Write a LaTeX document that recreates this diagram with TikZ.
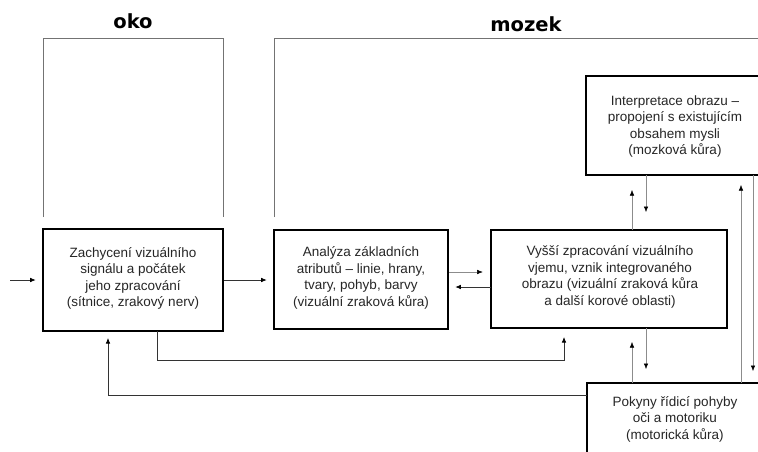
\documentclass[tikz,border=0pt]{standalone}
\usepackage{fontspec}
\setmainfont{Liberation Sans}
\newfontfamily\titlefont{DejaVu Sans}
\usetikzlibrary{arrows.meta,calc}
\begin{document}
\begin{tikzpicture}[x=1pt,y=-1pt,
  box/.style={draw=black, line width=2.6pt, rectangle, inner sep=0pt},
  txt/.style={align=center, font=\fontsize{13.5}{16.5}\selectfont, text=black!85, inner sep=0pt},
  ttl/.style={font=\titlefont\bfseries\fontsize{19.5}{22}\selectfont, inner sep=0pt, anchor=base},
  frame/.style={draw=black!55, line width=0.9pt},
  arr/.style={-{Latex[length=5.5pt,width=4.5pt,color=black]}, line width=0.7pt, draw=black!80},
  larr/.style={-{Latex[length=5.5pt,width=4.5pt,color=black]}, line width=0.5pt, draw=black!45},
]
\clip (0,0) rectangle (758,452);
\fill[white] (0,0) rectangle (758,452);

% titles
\node[ttl] (toko) at (133,29) {oko};
\node[ttl] (tmozek) at (526,32) {mozek};

% brackets
\coordinate (ok1) at (43,217);
\coordinate (ok2) at (43,38);
\coordinate (ok3) at (223,38);
\coordinate (ok4) at (223,217);
\draw[frame] (ok1) -- (ok2) -- (ok3) -- (ok4);
\coordinate (mz1) at (274,217);
\coordinate (mz2) at (274,38);
\coordinate (mz3) at (760,38);
\draw[frame] (mz1) -- (mz2) -- (mz3);

% boxes
\node[box, minimum width=180, minimum height=102] (b1) at (133,280) {};
\node[txt] (b1t) at (133,278.5) {Zachycení vizuálního\\signálu a počátek\\jeho zpracování\\(sítnice, zrakový nerv)};

\node[box, minimum width=174, minimum height=99] (b2) at (361,279.5) {};
\node[txt] (b2t) at (361,278) {Analýza základních\\atributů – linie, hrany,\\tvary, pohyb, barvy\\(vizuální zraková kůra)};

\node[box, minimum width=236, minimum height=98] (b3) at (609,279) {};
\node[txt] (b3t) at (610,277) {Vyšší zpracování vizuálního\\vjemu, vznik integrovaného\\obrazu (vizuální zraková kůra\\a další korové oblasti)};

\node[box, minimum width=178, minimum height=99] (b4) at (675,125.5) {};
\node[txt] (b4t) at (675,126.5) {Interpretace obrazu –\\propojení s existujícím\\obsahem mysli\\(mozková kůra)};

\node[box, minimum width=176, minimum height=74] (b5) at (675,420) {};
\node[txt] (b5t) at (675,419) {Pokyny řídicí pohyby\\oči a motoriku\\(motorická kůra)};

% horizontal arrows
\coordinate (in) at (10,280);
\draw[arr, shorten >=6pt] (in) -- (b1.west |- in);
\draw[arr, shorten >=6pt] (b1.east |- in) -- (b2.west |- in);
\coordinate (r1) at (449,272);
\draw[larr, shorten >=7pt] (r1) -- (b3.west |- r1);
\coordinate (r2) at (491,287);
\draw[arr, shorten >=6pt] (r2) -- (b2.east |- r2);

% loop from b1 to b3
\coordinate (l1) at (157,331);
\coordinate (l2) at (157,360);
\coordinate (l3) at (564,360);
\coordinate (l4) at (564,328);
\draw[arr, shorten >=9pt] (l1) -- (l2) -- (l3) -- (l4);

% feedback from b5 to b1
\coordinate (f1) at (587,395);
\coordinate (f2) at (108,395);
\coordinate (f3) at (108,331);
\draw[arr, shorten >=7pt] (f1) -- (f2) -- (f3);

% verticals b3 <-> b4
\coordinate (u1a) at (632,230);
\coordinate (u1b) at (632,175);
\draw[larr, shorten >=15pt] (u1a) -- (u1b);
\coordinate (d1a) at (646,175);
\coordinate (d1b) at (646,230);
\draw[larr, shorten >=18pt] (d1a) -- (d1b);

% verticals b3 <-> b5
\coordinate (u2a) at (632,383);
\coordinate (u2b) at (632,328);
\draw[larr, shorten >=14pt] (u2a) -- (u2b);
\coordinate (d2a) at (646,328);
\coordinate (d2b) at (646,383);
\draw[larr, shorten >=14pt] (d2a) -- (d2b);

% long verticals b4 <-> b5
\coordinate (u3a) at (741,383);
\coordinate (u3b) at (741,175);
\draw[larr, shorten >=10pt] (u3a) -- (u3b);
\coordinate (d3a) at (753,175);
\coordinate (d3b) at (753,383);
\draw[larr, shorten >=12pt] (d3a) -- (d3b);
\end{tikzpicture}
\end{document}
